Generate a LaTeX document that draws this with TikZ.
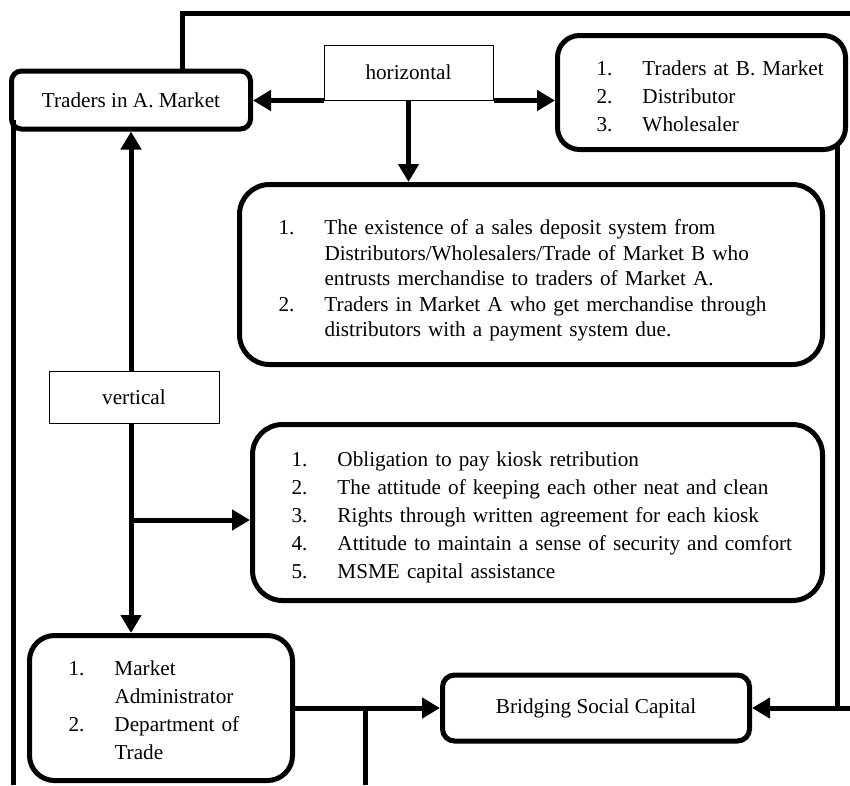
\documentclass[tikz,border=0pt]{standalone}
\usepackage{fontspec}
\setmainfont{Liberation Serif}
\usetikzlibrary{arrows.meta}

% numbered line inside a box
\newcommand{\li}[1]{\hspace*{39pt}\makebox[46pt][l]{#1}}
% taller first line, pushes the list down a little
\newcommand{\topgap}[1]{\rule{0pt}{#1}}

\begin{document}
\begin{tikzpicture}
	[x=1pt,y=-1pt,
	every node/.style={font=\fontsize{21.2}{28}\selectfont},
	rbox/.style={draw=black,line width=5pt,rounded corners=#1,inner sep=0pt},
	rbox/.default=12pt,
	tbox/.style={draw=black,line width=1pt,inner sep=0pt},
	ln/.style={line width=5pt},
	arr/.style={line width=5pt,-{Triangle[length=18pt,width=20pt]}}]

	\useasboundingbox (0,0) rectangle (850,785);

	\node[rbox=10pt,minimum width=239pt,minimum height=58pt] (traders) at (131,100) {Traders in A. Market};
	\node[tbox,minimum width=169pt,minimum height=55pt] (horiz) at (408.5,72.5) {horizontal};
	\node[rbox=22pt,text width=288pt,minimum height=114pt,align=left] (traderb) at (701.5,92.5)
		{\topgap{22.6pt}\li{1.}Traders at B. Market\\ \li{2.}Distributor\\ \li{3.}Wholesaler};

	\node[rbox=30pt,text width=583pt,minimum height=180pt,align=left,
		font=\fontsize{21.2}{25.5}\selectfont] (deposit) at (531,274.5)
		{\topgap{26.6pt}\li{1.}The existence of a sales deposit system from\\
		\li{}Distributors/Wholesalers/Trade of Market B who\\
		\li{}entrusts merchandise to traders of Market A.\\
		\li{2.}Traders in Market A who get merchandise through\\
		\li{}distributors with a payment system due.};

	\node[tbox,minimum width=170pt,minimum height=52pt] (vert) at (134,397) {vertical};

	\node[rbox=30pt,text width=570pt,minimum height=176pt,align=left] (kiosk) at (537.5,512.5)
		{\topgap{24.6pt}\li{1.}Obligation to pay kiosk retribution\\
		\li{2.}The attitude of keeping each other neat and clean\\
		\li{3.}Rights through written agreement for each kiosk\\
		\li{4.}Attitude to maintain a sense of security and comfort\\
		\li{5.}MSME capital assistance};

	\node[rbox=25pt,text width=263pt,minimum height=145pt,align=left] (admin) at (161,708)
		{\topgap{19.6pt}\li{1.}Market\\ \li{}Administrator\\ \li{2.}Department of\\ \li{}Trade};
	\node[rbox=12pt,minimum width=307pt,minimum height=66pt] (bsc) at (596,708) {Bridging Social Capital};

	\coordinate (tl) at (182,13);
	\coordinate (tr) at (850,13);
	\coordinate (lt) at (13,120);
	\coordinate (lb) at (13,785);
	\coordinate (rt) at (837,145);
	\coordinate (rj) at (837,708);
	\coordinate (re) at (850,708);
	\coordinate (vk) at (131,520);
	\coordinate (bb) at (365,785);

	% outer lines
	\draw[ln] (tl |- traders.north) -- (tl) -- (tr);
	\draw[ln] (lt) -- (lb);
	\draw[ln] (rt) -- (rj);
	\draw[ln] (bb |- admin.east) -- (bb);

	% horizontal
	\draw[arr] (horiz.south west) -- (traders.east |- horiz.south west);
	\draw[arr] (horiz.south east) -- (traderb.west |- horiz.south east);
	\draw[arr] (horiz.south) -- (horiz.south |- deposit.north);

	% vertical
	\draw[arr] (vert.north -| traders.south) -- (traders.south);
	\draw[arr] (vert.south -| traders.south) -- (traders.south |- admin.north);
	\draw[arr] (vk) -- (kiosk.west |- vk);

	\foreach \from/\to in {admin.east/bsc.west,re/bsc.east}
	\draw[arr] (\from) -- (\to);
\end{tikzpicture}
\end{document}
